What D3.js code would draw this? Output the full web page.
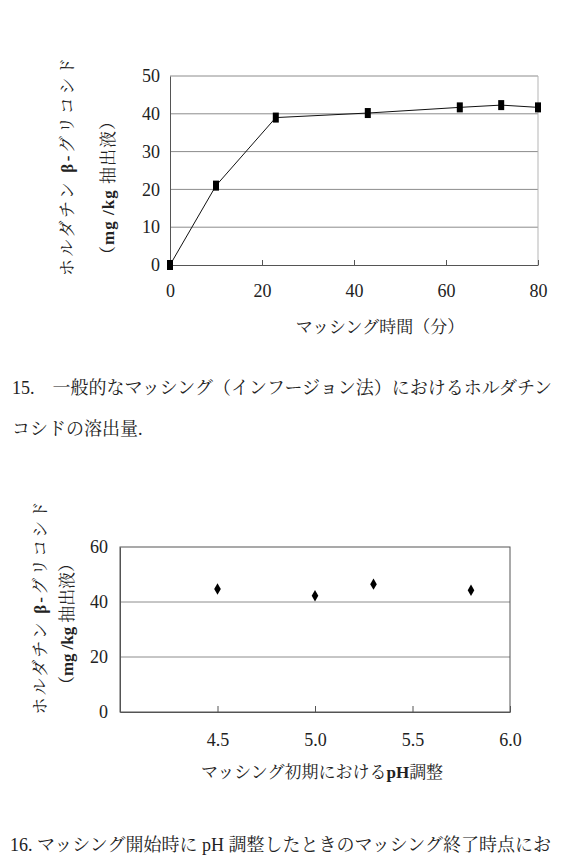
<!DOCTYPE html>
<html>
<head>
<meta charset="utf-8">
<script src="https://cdn.jsdelivr.net/npm/d3@7"></script>
<style>
  body { margin: 0; background: #fff; }
  text { font-family: "Liberation Serif", "Noto Serif CJK JP", "Noto Sans CJK JP", serif; fill: #222; }
  .grid line { stroke: #8c8c8c; stroke-width: 1; }
  .axis path, .axis line { stroke: #555; }
</style>
</head>
<body>
<svg id="page" width="565" height="863"></svg>
<script>
// fig 15: glycoside vs mashing time
var timeMin = [0, 10, 23, 43, 63, 72, 80];
var glyco1 = [0, 21, 39, 40.2, 41.7, 42.3, 41.7];
var yTicks1 = [0, 10, 20, 30, 40, 50];
var xTicks1 = [0, 20, 40, 60, 80];

// fig 16: glycoside vs initial pH
var phVals = [4.5, 5.0, 5.3, 5.8];
var glyco2 = [44.7, 42.3, 46.5, 44.3];
var yTicks2 = [0, 20, 40, 60];
var xTicks2 = [4.5, 5.0, 5.5, 6.0];

var svg = d3.select("#page");

// ---------- chart 1 ----------
var m1 = {left: 170, top: 76, right: 538, bottom: 265};
var x1 = d3.scaleLinear().domain([0, 80]).range([m1.left, m1.right]),
    y1 = d3.scaleLinear().domain([0, 50]).range([m1.bottom, m1.top]);

svg.append("g").attr("class", "grid")
  .selectAll("line").data(yTicks1.filter(function(d) { return d > 0; }))
  .enter().append("line")
    .attr("x1", m1.left).attr("x2", m1.right)
    .attr("y1", function(d) { return y1(d); })
    .attr("y2", function(d) { return y1(d); });

svg.append("line")
    .attr("x1", m1.right).attr("x2", m1.right)
    .attr("y1", m1.top).attr("y2", m1.bottom)
    .attr("stroke", "#b5b5b5");

svg.append("g")
    .attr("class", "axis")
    .attr("transform", "translate(0," + m1.bottom + ")")
    .style("font-size", "18px")
    .call(d3.axisBottom(x1).tickValues(xTicks1).tickSizeInner(-5).tickSizeOuter(0).tickPadding(19))
    .call(function(g) { g.selectAll("text").attr("fill", "#222"); });

svg.append("g")
    .attr("class", "axis")
    .attr("transform", "translate(" + m1.left + ",0)")
    .style("font-size", "18px")
    .call(d3.axisLeft(y1).tickValues(yTicks1).tickSize(0).tickPadding(10))
    .call(function(g) { g.selectAll("text").attr("fill", "#222"); });

var pts1 = timeMin.map(function(t, i) { return [t, glyco1[i]]; });

svg.append("path")
    .datum(pts1)
    .attr("fill", "none")
    .attr("stroke", "#111")
    .attr("stroke-width", 1)
    .attr("d", d3.line().x(function(d) { return x1(d[0]); }).y(function(d) { return y1(d[1]); }));

svg.selectAll(".mk1").data(pts1)
  .enter().append("rect")
    .attr("class", "mk1")
    .attr("x", function(d) { return x1(d[0]) - 3; })
    .attr("y", function(d) { return y1(d[1]) - 5; })
    .attr("width", 6).attr("height", 10)
    .attr("fill", "#000");

var l1 = svg.append("text").attr("transform", "translate(67,167) rotate(-90)")
    .attr("text-anchor", "middle").attr("dominant-baseline", "central")
    .style("font-size", "17px").attr("textLength", 218).attr("lengthAdjust", "spacing");
l1.append("tspan").text("ホルダチン ");
l1.append("tspan").attr("font-weight", "bold").text("β-");
l1.append("tspan").text("グリコシド");
var l2 = svg.append("text").attr("transform", "translate(108,188) rotate(-90)")
    .attr("text-anchor", "middle").attr("dominant-baseline", "central")
    .style("font-size", "17px").attr("textLength", 150).attr("lengthAdjust", "spacing");
l2.append("tspan").text("（");
l2.append("tspan").attr("font-weight", "bold").text("mg /kg ");
l2.append("tspan").text("抽出液）");

svg.append("text")
    .attr("x", 380).attr("y", 327)
    .attr("text-anchor", "middle").attr("dominant-baseline", "central")
    .style("font-size", "17px")
    .text("マッシング時間（分）");

svg.append("text")
    .attr("x", 12).attr("y", 388).attr("dominant-baseline", "central")
    .style("font-size", "18px")
    .text("15.　一般的なマッシング（インフージョン法）におけるホルダチン");
svg.append("text")
    .attr("x", 12).attr("y", 429).attr("dominant-baseline", "central")
    .style("font-size", "18px")
    .text("コシドの溶出量.");

// ---------- chart 2 ----------
var m2 = {left: 120, top: 547, right: 510, bottom: 712};
var x2 = d3.scaleLinear().domain([4.0, 6.0]).range([m2.left, m2.right]),
    y2 = d3.scaleLinear().domain([0, 60]).range([m2.bottom, m2.top]);

svg.append("g").attr("class", "grid")
  .selectAll("line").data(yTicks2.filter(function(d) { return d > 0 && d < 60; }))
  .enter().append("line")
    .attr("x1", m2.left).attr("x2", m2.right)
    .attr("y1", function(d) { return y2(d); })
    .attr("y2", function(d) { return y2(d); });

svg.append("g")
    .attr("class", "axis")
    .attr("transform", "translate(0," + m2.bottom + ")")
    .style("font-size", "18px")
    .call(d3.axisBottom(x2).tickValues(xTicks2).tickFormat(d3.format(".1f"))
      .tickSizeInner(-6).tickSizeOuter(0).tickPadding(21))
    .call(function(g) { g.selectAll("text").attr("fill", "#222"); });

svg.append("g")
    .attr("class", "axis")
    .attr("transform", "translate(" + m2.left + ",0)")
    .style("font-size", "18px")
    .call(d3.axisLeft(y2).tickValues(yTicks2).tickSize(0).tickPadding(12))
    .call(function(g) { g.selectAll("text").attr("fill", "#222"); });

svg.append("rect")
    .attr("x", m2.left).attr("y", m2.top)
    .attr("width", m2.right - m2.left).attr("height", m2.bottom - m2.top)
    .attr("fill", "none").attr("stroke", "#555");

svg.selectAll(".mk2").data(phVals)
  .enter().append("path")
    .attr("class", "mk2")
    .attr("transform", function(d, i) { return "translate(" + x2(d) + "," + y2(glyco2[i]) + ")"; })
    .attr("d", d3.symbol().type(d3.symbolDiamond).size(38))
    .attr("fill", "#000");

var l3 = svg.append("text").attr("transform", "translate(40,608) rotate(-90)")
    .attr("text-anchor", "middle").attr("dominant-baseline", "central")
    .style("font-size", "17px").attr("textLength", 213).attr("lengthAdjust", "spacing");
l3.append("tspan").text("ホルダチン ");
l3.append("tspan").attr("font-weight", "bold").text("β-");
l3.append("tspan").text("グリコシド");
var l4 = svg.append("text").attr("transform", "translate(67,624) rotate(-90)")
    .attr("text-anchor", "middle").attr("dominant-baseline", "central")
    .style("font-size", "17px").attr("textLength", 138).attr("lengthAdjust", "spacing");
l4.append("tspan").text("（");
l4.append("tspan").attr("font-weight", "bold").text("mg /kg ");
l4.append("tspan").text("抽出液）");

var xt2 = svg.append("text")
    .attr("x", 322).attr("y", 772)
    .attr("text-anchor", "middle").attr("dominant-baseline", "central")
    .style("font-size", "17px");
xt2.append("tspan").text("マッシング初期における");
xt2.append("tspan").attr("font-weight", "bold").text("pH");
xt2.append("tspan").text("調整");

svg.append("text")
    .attr("x", 10).attr("y", 845).attr("dominant-baseline", "central")
    .style("font-size", "18px")
    .text("16. マッシング開始時に pH 調整したときのマッシング終了時点にお");
</script>
</body>
</html>
